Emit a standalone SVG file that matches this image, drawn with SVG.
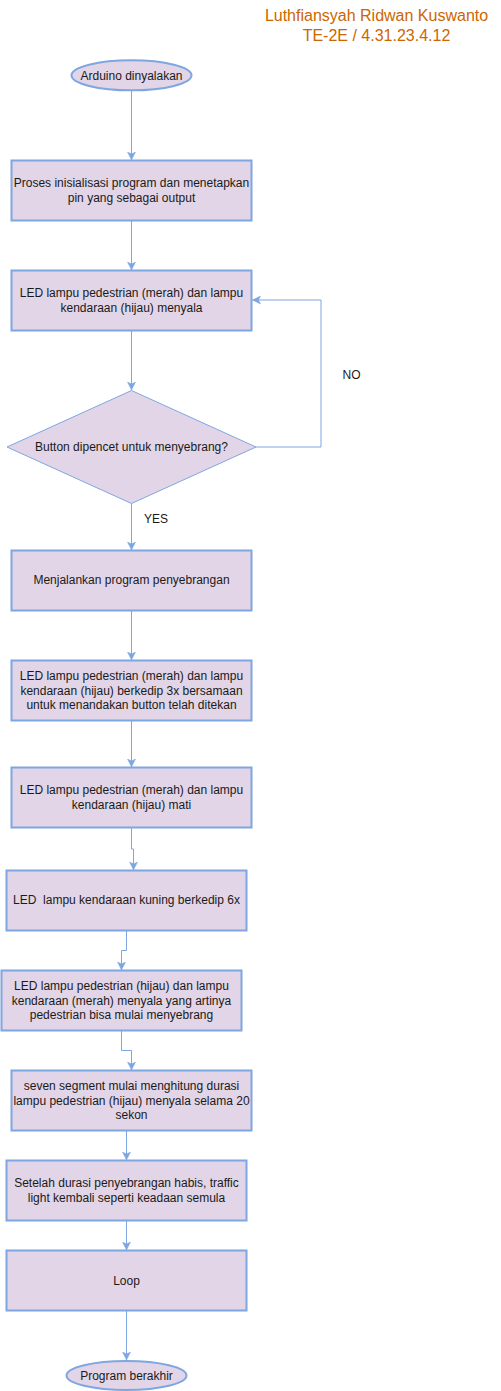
<svg xmlns="http://www.w3.org/2000/svg" width="501" height="1391" viewBox="0 0 501 1391">
<style>
.box{fill:#E1D5E7;stroke:#7EA6E0;stroke-width:2}
.dia{fill:#E1D5E7;stroke:#7EA6E0;stroke-width:1}
.t{font-family:"Liberation Sans",Arial,sans-serif;font-size:12px;fill:#1a1a1a;text-anchor:middle}
.lbl{font-family:"Liberation Sans",Arial,sans-serif;font-size:12px;fill:#1a1a1a;text-anchor:middle}
.title{font-family:"Liberation Sans",Arial,sans-serif;font-size:16px;fill:#CC6600;text-anchor:middle}
.edge{fill:none;stroke:#7EA6E0;stroke-width:1;marker-end:url(#arr)}
</style>
<defs>
<marker id="arr" markerUnits="userSpaceOnUse" markerWidth="10" markerHeight="10" refX="8" refY="4.5" orient="auto">
<path d="M0,0.5 L8,4.5 L0,8.5 L2,4.5 Z" fill="#7EA6E0" stroke="#7EA6E0" stroke-width="0.5"/>
</marker>
</defs>
<rect width="501" height="1391" fill="#ffffff"/>
<g id="title">
<text class="title" x="376.5" y="21">Luthfiansyah Ridwan Kuswanto</text>
<text class="title" x="376.5" y="40.5">TE-2E / 4.31.23.4.12</text>
</g>
<g id="connectors">
<path class="edge" d="M131.5,90 V160"/>
<path class="edge" d="M131.5,221 V270"/>
<path class="edge" d="M131.5,331 V390"/>
<path class="edge" d="M256,447 H321 V300 H252.5"/>
<path class="edge" d="M131.5,504 V550"/>
<path class="edge" d="M131.5,611 V660"/>
<path class="edge" d="M131.5,721 V767"/>
<path class="edge" d="M131.5,828 V849 H133.5 V870"/>
<path class="edge" d="M126.5,931 V950.5 H121.5 V970"/>
<path class="edge" d="M121.5,1031 V1050.5 H131.5 V1070"/>
<path class="edge" d="M126.5,1131 V1160"/>
<path class="edge" d="M126.5,1221 V1250"/>
<path class="edge" d="M126.5,1311 V1360"/>
<text class="lbl" x="351.5" y="379">NO</text>
<text class="lbl" x="156" y="523">YES</text>
</g>
<g id="start">
<ellipse class="box" cx="131.5" cy="75.3" rx="60" ry="15"/>
<text class="t" x="131.5" y="79.5">Arduino dinyalakan</text>
</g>
<g id="init">
<rect class="box" x="11.5" y="160.5" width="240" height="60"/>
<text class="t" x="131.5" y="187"><tspan x="131.5">Proses inisialisasi program dan menetapkan</tspan><tspan x="131.5" dy="14.5">pin yang sebagai output</tspan></text>
</g>
<g id="led-normal">
<rect class="box" x="11.5" y="270.5" width="240" height="60"/>
<text class="t" x="131.5" y="297"><tspan x="131.5">LED lampu pedestrian (merah) dan lampu</tspan><tspan x="131.5" dy="14.5">kendaraan (hijau) menyala</tspan></text>
</g>
<g id="decision">
<polygon class="dia" points="131.5,390.5 256,447 131.5,503.5 7,447"/>
<text class="t" x="131.5" y="451">Button dipencet untuk menyebrang?</text>
</g>
<g id="run">
<rect class="box" x="11.5" y="550.5" width="240" height="60"/>
<text class="t" x="131.5" y="584">Menjalankan program penyebrangan</text>
</g>
<g id="blink">
<rect class="box" x="11.5" y="660.5" width="240" height="60"/>
<text class="t" x="131.5" y="680"><tspan x="131.5">LED lampu pedestrian (merah) dan lampu</tspan><tspan x="131.5" dy="14.5">kendaraan (hijau) berkedip 3x bersamaan</tspan><tspan x="131.5" dy="14.5">untuk menandakan button telah ditekan</tspan></text>
</g>
<g id="off">
<rect class="box" x="11.5" y="767.5" width="240" height="60"/>
<text class="t" x="131.5" y="794"><tspan x="131.5">LED lampu pedestrian (merah) dan lampu</tspan><tspan x="131.5" dy="14.5">kendaraan (hijau) mati</tspan></text>
</g>
<g id="yellow">
<rect class="box" x="6.5" y="870.5" width="240" height="60"/>
<text class="t" x="126.5" y="904" xml:space="preserve">LED  lampu kendaraan kuning berkedip 6x</text>
</g>
<g id="cross">
<rect class="box" x="1.5" y="970.5" width="240" height="60"/>
<text class="t" x="121.5" y="990"><tspan x="121.5">LED lampu pedestrian (hijau) dan lampu</tspan><tspan x="121.5" dy="14.5">kendaraan (merah) menyala yang artinya</tspan><tspan x="121.5" dy="14.5">pedestrian bisa mulai menyebrang</tspan></text>
</g>
<g id="count">
<rect class="box" x="11.5" y="1070.5" width="240" height="60"/>
<text class="t" x="131.5" y="1090"><tspan x="131.5">seven segment mulai menghitung durasi</tspan><tspan x="131.5" dy="14.5">lampu pedestrian (hijau) menyala selama 20</tspan><tspan x="131.5" dy="14.5">sekon</tspan></text>
</g>
<g id="reset">
<rect class="box" x="6.5" y="1160.5" width="240" height="60"/>
<text class="t" x="126.5" y="1187"><tspan x="126.5">Setelah durasi penyebrangan habis, traffic</tspan><tspan x="126.5" dy="14.5">light kembali seperti keadaan semula</tspan></text>
</g>
<g id="loop">
<rect class="box" x="6.5" y="1250.5" width="240" height="60"/>
<text class="t" x="126.5" y="1284.5">Loop</text>
</g>
<g id="end">
<ellipse class="box" cx="126.5" cy="1375.5" rx="60" ry="14.5"/>
<text class="t" x="126.5" y="1379.5">Program berakhir</text>
</g>
</svg>
